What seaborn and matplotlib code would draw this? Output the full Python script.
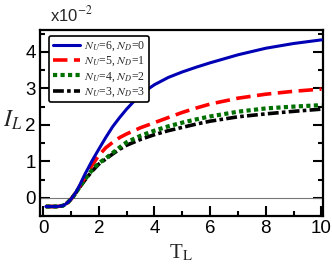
import matplotlib
matplotlib.use("Agg")
import matplotlib.pyplot as plt
import pandas as pd
import seaborn as sns
from matplotlib.ticker import MultipleLocator

# temperature axis (T_L) and currents I_L in units of 1e-2
tL = [0.1, 0.3, 0.5, 0.7, 0.8, 0.9, 1.0, 1.1, 1.2, 1.3, 1.5, 1.75, 2.0,
      2.25, 2.5, 2.75, 3.0, 3.5, 4.0, 4.5, 5.0, 5.5, 6.0, 7.0, 8.0, 9.0, 10.0]
iL_u6d0 = [-0.24, -0.24, -0.24, -0.22, -0.18, -0.12, -0.04, 0.06, 0.18,
           0.32, 0.64, 1.0, 1.33, 1.65, 1.95, 2.2, 2.43, 2.84, 3.1, 3.3, 3.45,
           3.58, 3.7, 3.92, 4.1, 4.23, 4.33]
iL_u5d1 = [-0.24, -0.24, -0.24, -0.22, -0.18, -0.12, -0.04, 0.06, 0.17,
           0.3, 0.55, 0.88, 1.16, 1.37, 1.52, 1.65, 1.75, 1.92, 2.06, 2.2,
           2.34, 2.46, 2.57, 2.73, 2.84, 2.92, 2.98]
iL_u4d2 = [-0.24, -0.24, -0.24, -0.22, -0.18, -0.12, -0.04, 0.05, 0.16,
           0.28, 0.5, 0.75, 0.95, 1.08, 1.23, 1.38, 1.52, 1.7, 1.84, 1.96,
           2.06, 2.15, 2.23, 2.36, 2.45, 2.5, 2.54]
iL_u3d3 = [-0.24, -0.24, -0.24, -0.22, -0.18, -0.12, -0.04, 0.05, 0.16,
           0.27, 0.48, 0.72, 0.92, 1.06, 1.2, 1.33, 1.44, 1.6, 1.73, 1.84,
           1.93, 2.02, 2.1, 2.22, 2.3, 2.37, 2.43]
labels = [r"$N_U$=6, $N_D$=0", r"$N_U$=5, $N_D$=1",
          r"$N_U$=4, $N_D$=2", r"$N_U$=3, $N_D$=3"]

sns.set_style("ticks")
plt.rcParams["font.family"] = ["Liberation Sans", "DejaVu Sans"]
plt.rcParams["mathtext.fontset"] = "stix"

fig = plt.figure(figsize=(3.32, 2.74), dpi=100)
ax = fig.add_axes([0.1205, 0.2117, 0.852, 0.6788])

ax.axhline(0, color="#777777", lw=0.8, zorder=1)

series = [iL_u6d0, iL_u5d1, iL_u4d2, iL_u3d3]
colors = ["#0000b4", "#ff0000", "#007000", "#000000"]
widths = [2.2, 2.6, 3.0, 2.6]
dashes = [None, (4, 1.8), (1, 0.8), (3, 0.9, 1, 0.9)]
zorders = [5, 4, 4, 3]

for y, lab, c, w, d, z in zip(series, labels, colors, widths, dashes, zorders):
    df = pd.DataFrame({"T": tL, "I": y})
    sns.lineplot(data=df, x="T", y="I", ax=ax, color=c, lw=w,
                 label=lab, zorder=z)
    l = ax.get_lines()[-1]
    if d is not None:
        l.set_dashes(d)
        l.set_dash_capstyle("butt")

ax.set_xlim(-0.11, 10.05)
ax.set_ylim(-0.5, 4.6)
ax.xaxis.set_major_locator(MultipleLocator(2))
ax.xaxis.set_minor_locator(MultipleLocator(1))
ax.yaxis.set_major_locator(MultipleLocator(1))
ax.yaxis.set_minor_locator(MultipleLocator(0.5))
ax.tick_params(which="both", direction="in", right=True, top=False,
               width=1.5, labelsize=13.5, colors="black")
ax.tick_params(which="major", length=7.5, pad=3)
ax.tick_params(which="minor", length=3.5)
for s in ax.spines.values():
    s.set_linewidth(1.6)
    s.set_color("black")

ax.set_xlabel(r"T$_\mathrm{L}$", fontsize=15, family="Liberation Serif",
              labelpad=4)
ax.set_ylabel(r"$I_L$", fontsize=17, rotation=0)
ax.yaxis.set_label_coords(-0.095, 0.45)

ax.text(0.035, 1.03, r"x10$^{-2}$", transform=ax.transAxes, fontsize=12,
        ha="left", va="bottom")

leg = ax.legend(loc="upper left", bbox_to_anchor=(0.032, 0.968),
                borderaxespad=0, fancybox=True, framealpha=1,
                edgecolor="black", handlelength=2.3, handletextpad=0.4,
                labelspacing=0.15, borderpad=0.3,
                prop={"family": "Liberation Serif", "size": 8.5})
leg.get_frame().set_linewidth(1.2)

fig.savefig("out.png", dpi=100)
